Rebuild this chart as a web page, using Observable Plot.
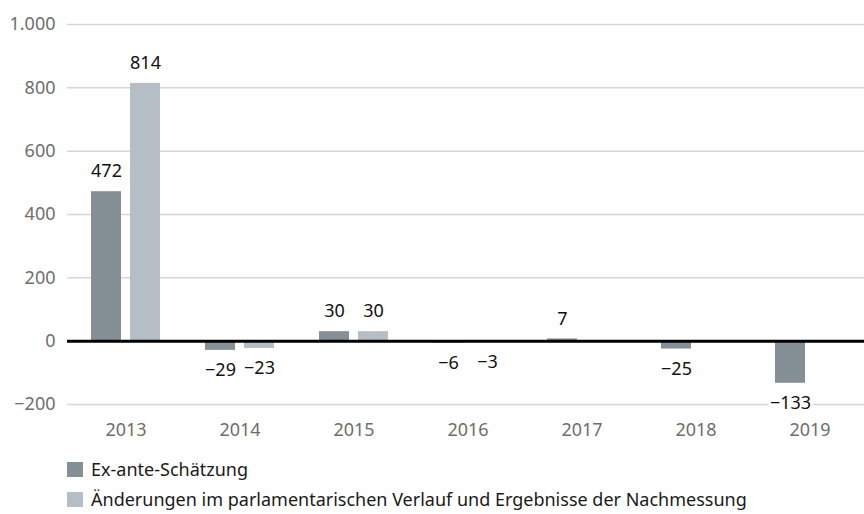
<!DOCTYPE html>
<html>
<head>
<meta charset="utf-8">
<script src="https://cdn.jsdelivr.net/npm/d3@7"></script>
<script src="https://cdn.jsdelivr.net/npm/@observablehq/plot@0.6"></script>
<style>
  html, body { margin: 0; padding: 0; background: #fff; }
  body { width: 864px; height: 514px; overflow: hidden; font-family: "Noto Sans", sans-serif; }
  #legend { margin-left: 67px; margin-top: 4px; font-size: 18px; color: #1a1a1a; }
  .row { height: 30px; display: flex; align-items: center; }
  .sw { width: 16px; height: 15px; margin-right: 8px; flex: none; }
</style>
</head>
<body>
<div id="chart"></div>
<div id="legend"></div>
<script>
const years = ["2013", "2014", "2015", "2016", "2017", "2018", "2019"];
const exAnte = [472, -29, 30, -6, 7, -25, -133];
const aenderungen = [814, -23, 30, -3, null, null, null];
const yTicks = [-200, 0, 200, 400, 600, 800, 1000];
const seriesNames = ["Ex-ante-Schätzung", "Änderungen im parlamentarischen Verlauf und Ergebnisse der Nachmessung"];
const colors = ["#848f96", "#b6bec5"];

const de = d3.formatLocale({decimal: ",", thousands: ".", grouping: [3], currency: ["", " €"], minus: "\u2212"});
const fmt = de.format(",d");

const dA = years.map((y, i) => ({year: y, value: exAnte[i]})).filter(d => d.value != null);
const dB = years.map((y, i) => ({year: y, value: aenderungen[i]})).filter(d => d.value != null);

const labelMark = (data, dx) => [
  Plot.text(data.filter(d => d.value >= 0), {x: "year", y: "value", text: d => fmt(d.value), dx, dy: -20, fill: "#111", stroke: "white", strokeWidth: 6, paintOrder: "stroke"}),
  Plot.text(data.filter(d => d.value < 0), {x: "year", y: "value", text: d => fmt(d.value), dx, dy: 20, fill: "#111", stroke: "white", strokeWidth: 6, paintOrder: "stroke"})
];

const chart = Plot.plot({
  width: 864,
  height: 450,
  marginTop: 24,
  marginBottom: 46,
  marginLeft: 67,
  marginRight: -4,
  style: {fontFamily: "'Noto Sans', sans-serif", fontSize: "18px", background: "white"},
  x: {domain: years, paddingInner: 0.397, paddingOuter: 0.1987, tickSize: 0, tickPadding: 19, label: null},
  y: {domain: [-200, 1000], ticks: yTicks, tickFormat: fmt, tickSize: 0, tickPadding: 12, label: null},
  marks: [
    Plot.ruleY(yTicks.filter(v => v !== 0), {stroke: "#d6d6d6", strokeWidth: 1.5}),
    Plot.barY(dA, {x: "year", y: "value", fill: colors[0], insetRight: 39}),
    Plot.barY(dB, {x: "year", y: "value", fill: colors[1], insetLeft: 39}),
    Plot.ruleY([0], {stroke: "#000", strokeWidth: 3}),
    ...labelMark(dA, -19.5),
    ...labelMark(dB, 19.5),
    Plot.axisX({tickSize: 0, tickPadding: 19, color: "#6e6e6e", fontSize: 18}),
    Plot.axisY({ticks: yTicks, tickFormat: fmt, tickSize: 0, tickPadding: 12, color: "#6e6e6e", fontSize: 18})
  ]
});
document.getElementById("chart").appendChild(chart);

const legend = document.getElementById("legend");
seriesNames.forEach((name, i) => {
  const row = document.createElement("div");
  row.className = "row";
  const sw = document.createElement("span");
  sw.className = "sw";
  sw.style.background = colors[i];
  const t = document.createElement("span");
  t.textContent = name;
  row.appendChild(sw);
  row.appendChild(t);
  legend.appendChild(row);
});
</script>
</body>
</html>
